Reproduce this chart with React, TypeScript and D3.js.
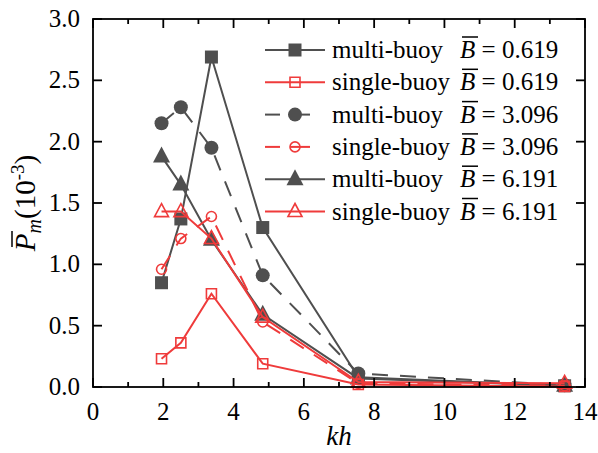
import React from 'react';
import * as d3 from 'd3';

// kh positions of the measured points
const khValues = [1.95, 2.5, 3.37, 4.83, 7.55, 13.42];

// mean power, units of 1e-3
const multiB0619 = [0.85, 1.37, 2.69, 1.30, 0.08, 0.01];
const singleB0619 = [0.23, 0.36, 0.76, 0.19, 0.02, 0.005];
const multiB3096 = [2.15, 2.28, 1.95, 0.91, 0.11, 0.015];
const singleB3096 = [0.96, 1.21, 1.39, 0.53, 0.03, 0.01];
const multiB6191 = [1.88, 1.65, 1.20, 0.59, 0.07, 0.01];
const singleB6191 = [1.43, 1.43, 1.21, 0.57, 0.04, 0.03];

const xTicks = [0, 2, 4, 6, 8, 10, 12, 14];
const xMinorTicks = [1, 3, 5, 7, 9, 11, 13];
const yTicks = [0, 0.5, 1.0, 1.5, 2.0, 2.5, 3.0];

const legendNames = ['multi-buoy', 'single-buoy', 'multi-buoy', 'single-buoy', 'multi-buoy', 'single-buoy'];
const legendB = ['0.619', '0.619', '3.096', '3.096', '6.191', '6.191'];

const GRAY = '#4f4f4f';
const RED = '#ef3b3b';
const FONT = "'Liberation Serif'";

const W = 598, H = 453;
const LEFT = 93, RIGHT = 585, TOP = 19, BOTTOM = 387;

// drawing order: gray series first, red ones on top
const series = [
    { values: multiB0619, color: GRAY, dash: undefined, marker: 'square', filled: true, legend: 0 },
    { values: multiB3096, color: GRAY, dash: '16,12', marker: 'circle', filled: true, legend: 2 },
    { values: multiB6191, color: GRAY, dash: undefined, marker: 'triangle', filled: true, legend: 4 },
    { values: singleB0619, color: RED, dash: undefined, marker: 'square', filled: false, legend: 1 },
    { values: singleB3096, color: RED, dash: '16,12', marker: 'circle', filled: false, legend: 3 },
    { values: singleB6191, color: RED, dash: undefined, marker: 'triangle', filled: false, legend: 5 },
];

function markerPath(marker: string, filled: boolean) {
    if (marker === 'square') {
        const h = filled ? 6.5 : 5;
        return `M${-h},${-h}H${h}V${h}H${-h}Z`;
    }
    if (marker === 'circle') {
        const r = filled ? 7 : 5;
        return d3.arc()({ innerRadius: 0, outerRadius: r, startAngle: 0, endAngle: 2 * Math.PI } as any) as string;
    }
    if (filled) return 'M0,-10L8.5,6L-8.5,6Z';
    return 'M0,-8L7,5L-7,5Z';
}

function Marker({ x, y, s }: any) {
    return (
        <path d={markerPath(s.marker, s.filled)} transform={`translate(${x},${y})`}
            fill={s.filled ? s.color : 'none'} stroke={s.color} strokeWidth={s.filled ? 0 : 1.6} />
    );
}

export default function App() {
    const xScale = d3.scaleLinear().domain([0, 14]).range([LEFT, RIGHT]);
    const yScale = d3.scaleLinear().domain([0, 3]).range([BOTTOM, TOP]);
    const line = d3.line<number>()
        .x((d, i) => xScale(khValues[i]))
        .y((d) => yScale(d));

    const legendOrder = series.slice().sort((a, b) => a.legend - b.legend);
    const textStyle = { fontFamily: FONT, fontSize: 25 };

    return (
        <svg width={W} height={H} style={{ position: 'absolute', left: 0, top: 0, background: '#fff' }}>
            {series.map((s, k) => (
                <g key={k}>
                    <path d={line(s.values) as string} fill="none" stroke={s.color} strokeWidth={2}
                        strokeDasharray={s.dash} />
                    {s.values.map((v, i) => (
                        <Marker key={i} x={xScale(khValues[i])} y={yScale(v)} s={s} />
                    ))}
                </g>
            ))}

            <g stroke="#000" strokeWidth={1.8}>
                {xTicks.map((v) => (
                    <g key={'x' + v}>
                        <line x1={xScale(v)} x2={xScale(v)} y1={BOTTOM} y2={BOTTOM - 9} />
                        <line x1={xScale(v)} x2={xScale(v)} y1={TOP} y2={TOP + 9} />
                    </g>
                ))}
                {xMinorTicks.map((v) => (
                    <g key={'m' + v}>
                        <line x1={xScale(v)} x2={xScale(v)} y1={BOTTOM} y2={BOTTOM - 5} />
                        <line x1={xScale(v)} x2={xScale(v)} y1={TOP} y2={TOP + 5} />
                    </g>
                ))}
                {yTicks.map((v) => (
                    <g key={'y' + v}>
                        <line x1={LEFT} x2={LEFT + 9} y1={yScale(v)} y2={yScale(v)} />
                        <line x1={RIGHT} x2={RIGHT - 9} y1={yScale(v)} y2={yScale(v)} />
                    </g>
                ))}
                <rect x={LEFT} y={TOP} width={RIGHT - LEFT} height={BOTTOM - TOP} fill="none" />
            </g>

            {xTicks.map((v) => (
                <text key={'xl' + v} x={xScale(v)} y={BOTTOM + 33} textAnchor="middle" style={textStyle}>{v}</text>
            ))}
            {yTicks.map((v) => (
                <text key={'yl' + v} x={LEFT - 13} y={yScale(v) + 8} textAnchor="end" style={textStyle}>
                    {d3.format('.1f')(v)}
                </text>
            ))}
            <text x={(LEFT + RIGHT) / 2} y={445} textAnchor="middle"
                style={{ fontFamily: FONT, fontSize: 27, fontStyle: 'italic' }}>kh</text>

            <g transform={`translate(35,${(TOP + BOTTOM) / 2}) rotate(-90)`}>
                <text textAnchor="middle" style={{ fontFamily: FONT, fontSize: 29 }}>
                    <tspan style={{ fontStyle: 'italic' }}>P</tspan>
                    <tspan dy={6} style={{ fontStyle: 'italic', fontSize: 20 }}>m</tspan>
                    <tspan dy={-6}>(10</tspan>
                    <tspan dy={-11} style={{ fontSize: 19 }}>-3</tspan>
                    <tspan dy={11}>)</tspan>
                </text>
                <line x1={-44} x2={-28} y1={-23} y2={-23} stroke="#000" strokeWidth={1.5} />
            </g>

            {legendOrder.map((s, i) => {
                const cy = 50 + i * 32.3;
                return (
                    <g key={'lg' + i}>
                        {s.dash ? (
                            <g stroke={s.color} strokeWidth={2}>
                                <line x1={265} x2={280} y1={cy} y2={cy} />
                                <line x1={290} x2={310} y1={cy} y2={cy} />
                            </g>
                        ) : (
                            <line x1={265} x2={325} y1={cy} y2={cy} stroke={s.color} strokeWidth={2} />
                        )}
                        <Marker x={295} y={cy} s={s} />
                        <text x={332} y={cy + 8} style={textStyle}>{legendNames[i]}</text>
                        <text x={460} y={cy + 8} style={textStyle}>
                            <tspan style={{ fontStyle: 'italic' }}>B</tspan>
                            <tspan>{' = ' + legendB[i]}</tspan>
                        </text>
                        <line x1={462} x2={478} y1={cy - 13} y2={cy - 13} stroke="#000" strokeWidth={1.5} />
                    </g>
                );
            })}
        </svg>
    );
}
